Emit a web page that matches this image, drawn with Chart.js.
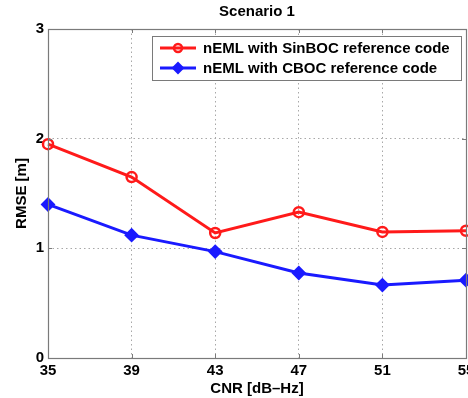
<!DOCTYPE html>
<html>
<head>
<meta charset="utf-8">
<script src="https://cdn.jsdelivr.net/npm/chart.js@4.4.1/dist/chart.umd.min.js"></script>
<style>
  html, body { margin: 0; padding: 0; background: #fff; overflow: hidden; }
  .chartBox { width: 482px; height: 398px; }
</style>
</head>
<body>
<div class="chartBox">
  <canvas id="chart" width="482" height="398"></canvas>
</div>
<script>
// CNR values (dB-Hz) and RMSE per reference code
const cnr = [35, 39, 43, 47, 51, 55];
const sinbocRmse = [1.95, 1.65, 1.14, 1.33, 1.15, 1.16];
const cbocRmse = [1.40, 1.12, 0.97, 0.775, 0.665, 0.71];
const xTicks = [35, 39, 43, 47, 51, 55];
const yTicks = [0, 1, 2, 3];
const seriesNames = ["nEML with SinBOC reference code", "nEML with CBOC reference code"];

const FONT = "'Liberation Sans', Arial, Helvetica, sans-serif";
const BOX = "#7a7a7a";

// matlab-like axes box with inward tick marks
const axesBox = {
  id: "axesBox",
  afterDatasetsDraw(chart) {
    const { ctx, chartArea: a, scales: { x, y } } = chart;
    ctx.save();
    ctx.strokeStyle = BOX;
    ctx.lineWidth = 1;
    ctx.setLineDash([]);
    ctx.beginPath();
    xTicks.forEach((v) => {
      const px = Math.round(x.getPixelForValue(v)) + 0.5;
      ctx.moveTo(px, a.bottom); ctx.lineTo(px, a.bottom - 4);
      ctx.moveTo(px, a.top); ctx.lineTo(px, a.top + 4);
    });
    yTicks.forEach((v) => {
      const py = Math.round(y.getPixelForValue(v)) + 0.5;
      ctx.moveTo(a.left, py); ctx.lineTo(a.left + 4, py);
      ctx.moveTo(a.right, py); ctx.lineTo(a.right - 4, py);
    });
    ctx.stroke();
    ctx.lineWidth = 1.2;
    ctx.strokeRect(Math.round(a.left) + 0.5, Math.round(a.top) + 0.5,
      Math.round(a.right - a.left), Math.round(a.bottom - a.top));
    ctx.restore();
  },
};

// legend box in the upper right corner of the plot
const boxLegend = {
  id: "boxLegend",
  afterDraw(chart) {
    const { ctx, chartArea: a } = chart;
    const bx = 152, by = 36, bw = a.right - 5 - 152, bh = 44;
    ctx.save();
    ctx.fillStyle = "#fff";
    ctx.fillRect(bx, by, bw, bh);
    ctx.strokeStyle = BOX;
    ctx.lineWidth = 1;
    ctx.strokeRect(bx + 0.5, by + 0.5, bw, bh);
    chart.data.datasets.forEach((ds, i) => {
      const cy = by + 12 + i * 20;
      ctx.strokeStyle = ds.borderColor;
      ctx.lineWidth = 3;
      ctx.beginPath();
      ctx.moveTo(bx + 8, cy);
      ctx.lineTo(bx + 44, cy);
      ctx.stroke();
      ctx.lineWidth = ds.pointBorderWidth;
      ctx.fillStyle = ds.pointBackgroundColor;
      ctx.strokeStyle = ds.pointBorderColor;
      Chart.helpers.drawPoint(ctx, { pointStyle: ds.pointStyle, radius: ds.pointRadius - 1, borderWidth: ds.pointBorderWidth }, bx + 26, cy);
      ctx.fillStyle = "#000";
      ctx.font = "bold 15px " + FONT;
      ctx.textBaseline = "middle";
      ctx.textAlign = "left";
      ctx.fillText(ds.label, bx + 51, cy + 1);
    });
    ctx.restore();
  },
};

new Chart(document.getElementById("chart"), {
  type: "line",
  data: {
    datasets: [
      {
        label: seriesNames[0],
        data: cnr.map((c, i) => ({ x: c, y: sinbocRmse[i] })),
        borderColor: "#ff1a1a",
        borderWidth: 3,
        pointStyle: "circle",
        pointRadius: 5,
        pointBorderWidth: 2.5,
        pointBorderColor: "#ff1a1a",
        pointBackgroundColor: "rgba(255,255,255,0)",
        clip: false,
      },
      {
        label: seriesNames[1],
        data: cnr.map((c, i) => ({ x: c, y: cbocRmse[i] })),
        borderColor: "#1a1aff",
        borderWidth: 3,
        pointStyle: "rectRot",
        pointRadius: 6,
        pointBorderWidth: 2,
        pointBorderColor: "#1a1aff",
        pointBackgroundColor: "#1a1aff",
        clip: false,
      },
    ],
  },
  options: {
    responsive: false,
    animation: false,
    layout: { padding: { left: 0, right: 16, top: 0, bottom: 0 } },
    plugins: {
      legend: { display: false },
      tooltip: { enabled: false },
      title: {
        display: true,
        text: "Scenario 1",
        fullSize: false,
        color: "#000",
        font: { family: FONT, size: 15, weight: "bold" },
        padding: { top: 3, bottom: 8 },
      },
    },
    scales: {
      x: {
        type: "linear",
        min: 35,
        max: 55,
        afterBuildTicks: (s) => { s.ticks = xTicks.map((v) => ({ value: v })); },
        afterFit: (s) => { s.height = 40; },
        grid: { color: "#a8a8a8", drawTicks: false },
        border: { display: false, dash: [1.5, 3] },
        ticks: {
          color: "#000",
          padding: 4,
          maxRotation: 0,
          font: { family: FONT, size: 15, weight: "bold" },
        },
        title: {
          display: true,
          text: "CNR [dB\u2013Hz]",
          color: "#000",
          font: { family: FONT, size: 15, weight: "bold" },
          padding: { top: 0, bottom: 0 },
        },
      },
      y: {
        min: 0,
        max: 3,
        afterBuildTicks: (s) => { s.ticks = yTicks.map((v) => ({ value: v })); },
        afterFit: (s) => { s.width = 48; },
        grid: { color: "#a8a8a8", drawTicks: false },
        border: { display: false, dash: [1.5, 3] },
        ticks: {
          color: "#000",
          padding: 4,
          font: { family: FONT, size: 15, weight: "bold" },
        },
        title: {
          display: true,
          text: "RMSE [m]",
          color: "#000",
          font: { family: FONT, size: 15, weight: "bold" },
          padding: { top: 13, bottom: 0 },
        },
      },
    },
  },
  plugins: [axesBox, boxLegend],
});
</script>
</body>
</html>
